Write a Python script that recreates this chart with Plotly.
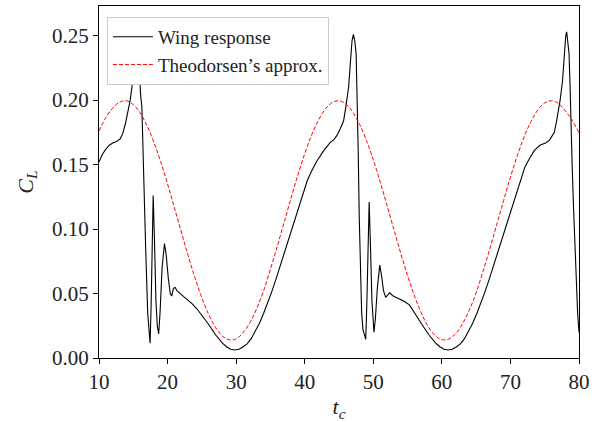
import plotly.graph_objects as go

# Theodorsen's approximation (read at integer t_c)
theo_t = list(range(10, 81))
theo_cl = [0.1760, 0.1865, 0.1938, 0.1984, 0.1994, 0.1966, 0.1901, 0.1802, 0.1673, 0.1522,
           0.1349, 0.1165, 0.0978, 0.0794, 0.0622, 0.0468, 0.0337, 0.0237, 0.0170, 0.0141,
           0.0148, 0.0195, 0.0274, 0.0384, 0.0521, 0.0689, 0.0867, 0.1053, 0.1240, 0.1419,
           0.1584, 0.1728, 0.1845, 0.1931, 0.1981, 0.1995, 0.1970, 0.1909, 0.1813, 0.1687,
           0.1537, 0.1366, 0.1184, 0.0997, 0.0813, 0.0639, 0.0482, 0.0349, 0.0245, 0.0175,
           0.0142, 0.0146, 0.0188, 0.0264, 0.0371, 0.0506, 0.0672, 0.0849, 0.1034, 0.1221,
           0.1402, 0.1568, 0.1715, 0.1835, 0.1924, 0.1978, 0.1995, 0.1974, 0.1917, 0.1845,
           0.1745]

# Wing response
wing_t = [10.0, 10.5, 11.0, 11.5, 12.0, 12.6, 13.1, 13.45, 13.85, 14.2, 14.55, 14.9, 15.2, 15.45,
          15.6, 15.75, 15.9, 16.05, 16.25, 16.45, 16.6, 16.8, 17.1, 17.3, 17.45, 17.6, 17.75, 17.9,
          18.1, 18.3, 18.5, 18.7, 18.9, 19.2, 19.55, 19.8, 20.1, 20.4, 20.6, 20.85, 21.1, 21.4,
          22.1, 23.0, 23.6, 24.3, 25.0, 26.0, 27.0, 28.0, 28.6, 29.2, 29.8, 30.4, 31.0, 31.6,
          32.2, 32.8, 33.4, 34.0, 34.6, 35.2, 35.8, 36.4, 37.0, 37.6, 38.2, 38.95, 39.7, 40.4,
          41.1, 41.8, 42.8, 43.75, 44.2, 44.7, 45.2, 45.67, 46.0, 46.4, 46.7, 46.9, 47.1, 47.3,
          47.5, 47.6, 47.7, 47.8, 47.95, 48.1, 48.3, 48.5, 48.7, 48.9, 49.05, 49.2, 49.4, 49.6,
          49.8, 50.1, 50.3, 50.6, 50.95, 51.2, 51.5, 51.8, 52.1, 52.4, 52.9, 53.8, 54.5, 55.3,
          56.1, 57.1, 58.1, 59.1, 59.7, 60.3, 60.9, 61.5, 62.1, 62.7, 63.3, 63.9, 64.5, 65.1,
          65.7, 66.3, 66.9, 67.5, 68.1, 68.7, 69.4, 70.1, 70.6, 71.1, 71.6, 72.1, 72.8, 73.5,
          74.3, 75.2, 75.7, 76.1, 76.4, 76.7, 76.9, 77.25, 77.6, 77.85, 78.05, 78.2, 78.35, 78.55,
          78.7, 78.8, 79.0, 79.2, 79.5, 79.8, 80.0]
wing_cl = [0.152, 0.158, 0.162, 0.165, 0.1667, 0.168, 0.170, 0.174, 0.1816, 0.192, 0.200, 0.214, 0.232, 0.246,
           0.250, 0.244, 0.222, 0.205, 0.195, 0.150, 0.120, 0.086, 0.035, 0.020, 0.0114, 0.040, 0.090, 0.126,
           0.090, 0.045, 0.025, 0.0186, 0.035, 0.070, 0.0888, 0.080, 0.062, 0.050, 0.048, 0.054, 0.0547, 0.052,
           0.0488, 0.045, 0.042, 0.038, 0.0333, 0.026, 0.018, 0.0115, 0.0087, 0.0068, 0.0062, 0.0068, 0.0085, 0.0110,
           0.0150, 0.0205, 0.0270, 0.0345, 0.0425, 0.0515, 0.0610, 0.0710, 0.0810, 0.0915, 0.1020, 0.1146, 0.127, 0.138,
           0.146, 0.153, 0.161, 0.1674, 0.169, 0.1726, 0.178, 0.184, 0.195, 0.210, 0.232, 0.246, 0.251, 0.246,
           0.236, 0.215, 0.200, 0.161, 0.110, 0.070, 0.035, 0.022, 0.018, 0.0145, 0.040, 0.090, 0.121, 0.085,
           0.045, 0.020, 0.030, 0.055, 0.072, 0.064, 0.052, 0.047, 0.049, 0.0506, 0.048, 0.046, 0.044, 0.041,
           0.034, 0.026, 0.018, 0.0115, 0.0087, 0.0068, 0.0062, 0.0068, 0.0085, 0.0110, 0.0150, 0.0205, 0.0270, 0.0345,
           0.0425, 0.0515, 0.0610, 0.0710, 0.0810, 0.0915, 0.1040, 0.1160, 0.1245, 0.1326, 0.141, 0.148, 0.155, 0.161,
           0.165, 0.167, 0.169, 0.172, 0.175, 0.183, 0.189, 0.200, 0.215, 0.235, 0.249, 0.253, 0.247, 0.236,
           0.210, 0.184, 0.150, 0.117, 0.070, 0.035, 0.020]

x_ticks = [10, 20, 30, 40, 50, 60, 70, 80]
y_ticks = [0.00, 0.05, 0.10, 0.15, 0.20, 0.25]

FONT = "Liberation Serif"

fig = go.Figure()
fig.add_trace(go.Scatter(x=wing_t, y=wing_cl, mode="lines", name="Wing response",
                         line=dict(color="black", width=1.1)))
fig.add_trace(go.Scatter(x=theo_t, y=theo_cl, mode="lines", name="Theodorsen’s approx.",
                         line=dict(color="#ff0000", width=1, dash="4px,2px", shape="spline")))

axis_common = dict(showgrid=False, zeroline=False, showline=True, linecolor="black", linewidth=1.2,
                   mirror=True, ticks="outside", ticklen=5, tickwidth=1, tickcolor="black",
                   ticklabeloverflow="allow",
                   tickfont=dict(family=FONT, size=21, color="#222"))

fig.update_layout(
    width=595, height=422,
    margin=dict(l=99, r=10, t=5, b=64),
    plot_bgcolor="white", paper_bgcolor="white",
    font=dict(family=FONT, size=20, color="#222"),
    xaxis=dict(range=[10, 80], tickvals=x_ticks, ticktext=[str(v) for v in x_ticks],
               title=dict(text="<i>t<sub>c</sub></i>", font=dict(family=FONT, size=22), standoff=6),
               **axis_common),
    yaxis=dict(range=[0, 0.273], tickvals=y_ticks, ticktext=[f"{v:.2f}" for v in y_ticks],
               title=dict(text="<i>C<sub>L</sub></i>", font=dict(family=FONT, size=22), standoff=12),
               **axis_common),
    legend=dict(x=0.0165, y=0.969, xanchor="left", yanchor="top",
                bgcolor="white", bordercolor="#cccccc", borderwidth=1,
                font=dict(family=FONT, size=19, color="#222"), tracegroupgap=0,
                itemwidth=40),
    showlegend=True,
)

fig.write_html("out.html")
